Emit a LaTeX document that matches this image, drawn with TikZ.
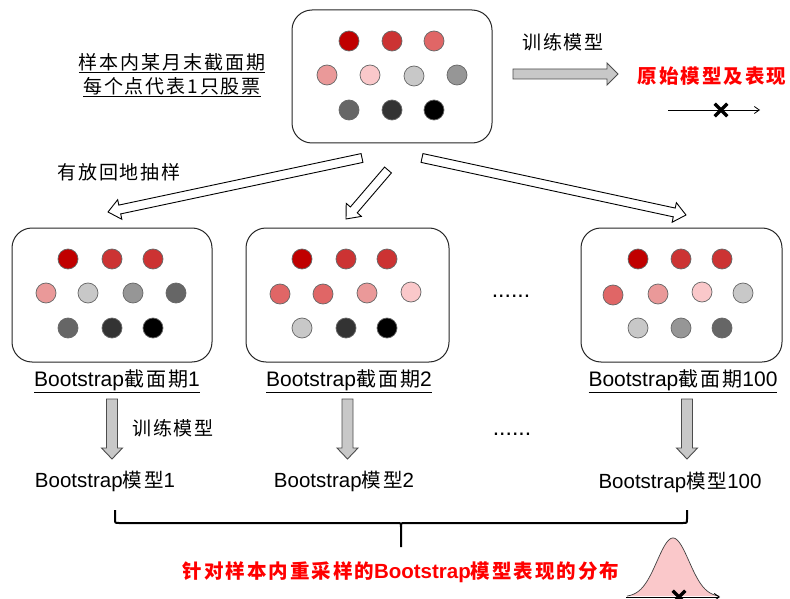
\documentclass[tikz,border=0pt]{standalone}
\usepackage{fontspec}
\setmainfont{Liberation Sans}
\newfontfamily\cjk{Noto Sans CJK SC}[LetterSpace=10]
\usetikzlibrary{calc,arrows.meta,shapes.misc}

\definecolor{r1}{HTML}{C00000}
\definecolor{r2}{HTML}{CC3333}
\definecolor{r3}{HTML}{E06666}
\definecolor{r4}{HTML}{EA9999}
\definecolor{r5}{HTML}{FAC8CA}
\definecolor{g1}{HTML}{C8C8C8}
\definecolor{g2}{HTML}{969696}
\definecolor{g3}{HTML}{666666}
\definecolor{g4}{HTML}{333333}
\definecolor{g5}{HTML}{000000}
\definecolor{redtxt}{HTML}{FF0000}

% #1 from, #2 to, #3 shaft half width, #4 head half width, #5 head length, #6 style
\newcommand\blockarrow[6]{%
  \path[#6] let \p1=($(#2)-(#1)$), \n1={atan2(\y1,\x1)}, \n2={veclen(\x1,\y1)} in
    [shift={(#1)}, rotate=\n1]
    (0pt,#3) -- (\n2-#5,#3) -- (\n2-#5,#4) -- (\n2,0pt) -- (\n2-#5,-#4)
    -- (\n2-#5,-#3) -- (0pt,-#3) -- cycle;}

\begin{document}
\begin{tikzpicture}[x=1pt,y=-1pt,
  panel/.style={draw=black!85, line width=1pt, rounded corners=20pt, inner sep=0pt},
  dot/.style={circle, draw=black!60, line width=0.7pt, minimum size=20pt, inner sep=0pt},
  cjktxt/.style={font=\cjk\fontsize{19}{23}\selectfont, inner sep=0pt},
  redbold/.style={font=\cjk\bfseries\fontsize{19.5}{23}\selectfont, text=redtxt, inner sep=0pt},
  lbl/.style={font=\fontsize{21}{25}\selectfont, inner sep=0pt},
  mlbl/.style={font=\fontsize{20.5}{25}\selectfont, inner sep=0pt},
  whitearrow/.style={draw=black, line width=0.9pt, fill=white, line join=miter},
  grayarrow/.style={draw=black!70, line width=0.9pt, fill=g1, line join=miter},
  xmark/.style={cross out, draw=black, line width=3.2pt, minimum size=9.5pt, inner sep=0pt},
  bracepath/.style={line width=2pt, line join=round}
]
\fill[white] (0,0) rectangle (790,599);
\useasboundingbox (0,0) rectangle (790,599);

% panels
\node[panel, minimum width=200pt, minimum height=133pt] (top) at (392,76.5) {};
\node[panel, minimum width=200pt, minimum height=134pt] (p1) at (112,295) {};
\node[panel, minimum width=203pt, minimum height=134pt] (p2) at (347.5,295) {};
\node[panel, minimum width=201pt, minimum height=134pt] (p3) at (681.5,295) {};

% dots
\foreach \x/\y/\c [count=\i] in {349/41/r1,392/41/r2,434/41/r3,
  327/75/r4,370/75/r5,414/76/g1,457/75/g2,349/110/g3,392/110/g4,434/110/g5}
  \node[dot, fill=\c] (t\i) at (\x,\y) {};
\foreach \x/\y/\c [count=\i] in {68/259/r1,112/259/r2,153/259/r2,
  46/293/r4,88/293/g1,133/293/g2,176/293/g3,68/328/g3,112/328/g4,153/328/g5}
  \node[dot, fill=\c] (a\i) at (\x,\y) {};
\foreach \x/\y/\c [count=\i] in {302/259/r1,346/259/r2,387/259/r2,
  280/294/r3,323/294/r3,367/293/r4,411/292/r5,302/328/g1,346/328/g4,387/328/g5}
  \node[dot, fill=\c] (b\i) at (\x,\y) {};
\foreach \x/\y/\c [count=\i] in {638/259/r1,681/259/r2,722/259/r2,
  613/295/r3,658/294/r4,702/292/r5,743/293/g1,638/328/g1,681/328/g2,722/328/g3}
  \node[dot, fill=\c] (c\i) at (\x,\y) {};

% top-left note
\node[cjktxt] (note1) at (172,63) {\underline{样本内某月末截面期}};
\node[cjktxt] (note2) at (172,87) {\underline{每个点代表1只股票}};

% training arrow to the right
\node[cjktxt] (train0) at (563,42) {训练模型};
\coordinate (ra) at (513,74);
\coordinate (rb) at (618,74);
\blockarrow{ra}{rb}{5pt}{11pt}{11pt}{grayarrow}
\node[redbold] (orig) at (712,76) {原始模型及表现};
\coordinate (ax1a) at (668,110);
\coordinate (ax1b) at (760,110);
\draw[line width=0.8pt, -{Straight Barb[length=5pt,width=7pt]}] (ax1a) -- (ax1b);
\node[xmark] (x1) at (721,110) {};

% sampling arrows
\node[cjktxt] (samp) at (119,172) {有放回地抽样};
\coordinate (s1a) at (362,158);
\coordinate (s1b) at (108,212);
\coordinate (s2a) at (388,170);
\coordinate (s2b) at (346,219);
\coordinate (s3a) at (422,158);
\coordinate (s3b) at (686,215);
\blockarrow{s1a}{s1b}{4.5pt}{10pt}{12pt}{whitearrow}
\blockarrow{s2a}{s2b}{4.5pt}{10pt}{12pt}{whitearrow}
\blockarrow{s3a}{s3b}{4.5pt}{10pt}{12pt}{whitearrow}

% panel labels
\node[lbl] (l1) at (117,381) {\underline{Bootstrap{\cjk\fontsize{20}{24}\selectfont 截面期}1}};
\node[lbl] (l2) at (349,381) {\underline{Bootstrap{\cjk\fontsize{20}{24}\selectfont 截面期}2}};
\node[lbl] (l3) at (683,381) {\underline{Bootstrap{\cjk\fontsize{20}{24}\selectfont 截面期}100}};
\node[font=\fontsize{23}{26}\selectfont, inner sep=0pt, anchor=base] (dots1) at (511,297) {......};

% down arrows
\coordinate (d1a) at (112,399);
\coordinate (d1b) at (112,459);
\coordinate (d2a) at (347.5,399);
\coordinate (d2b) at (347.5,459);
\coordinate (d3a) at (687,399);
\coordinate (d3b) at (687,459);
\blockarrow{d1a}{d1b}{5.5pt}{10.5pt}{11pt}{grayarrow}
\blockarrow{d2a}{d2b}{5.5pt}{10.5pt}{11pt}{grayarrow}
\blockarrow{d3a}{d3b}{5.5pt}{10.5pt}{11pt}{grayarrow}
\node[cjktxt] (train1) at (173,428) {训练模型};
\node[font=\fontsize{23}{26}\selectfont, inner sep=0pt, anchor=base] (dots2) at (512,435) {......};

% model labels
\node[mlbl] (m1) at (105,481) {Bootstrap{\cjk\fontsize{19.5}{23}\selectfont 模型}1};
\node[mlbl] (m2) at (344,481) {Bootstrap{\cjk\fontsize{19.5}{23}\selectfont 模型}2};
\node[mlbl] (m3) at (680,482) {Bootstrap{\cjk\fontsize{19.5}{23}\selectfont 模型}100};

% brace
\draw[bracepath] (115,510) -- (115,519) .. controls (115,523) .. (119,523) -- (397,523)
  .. controls (401,523) .. (401,527) -- (401,547);
\draw[bracepath] (401,527) .. controls (401,523) .. (405,523) -- (683,523)
  .. controls (687,523) .. (687,519) -- (687,510);

% bottom text
\node[redbold] (dist) at (401,572) {针对样本内重采样的{\fontspec{Liberation Sans}\bfseries\fontsize{20.5}{24}\selectfont Bootstrap}模型表现的分布};

% gaussian
\fill[r5] plot[domain=-46:46, samples=80] ({673+\x},{597-59*exp(-(\x*\x)/(2*16*16))}) -- cycle;
\draw[black!75, line width=0.7pt] plot[domain=-46:46, samples=80] ({673+\x},{597-59*exp(-(\x*\x)/(2*16*16))});
\coordinate (ax2a) at (626,597);
\coordinate (ax2b) at (720,597);
\draw[line width=0.9pt, -{Straight Barb[length=5pt,width=7pt]}] (ax2a) -- (ax2b);
\node[xmark] (x2) at (679,597) {};
\end{tikzpicture}
\end{document}
